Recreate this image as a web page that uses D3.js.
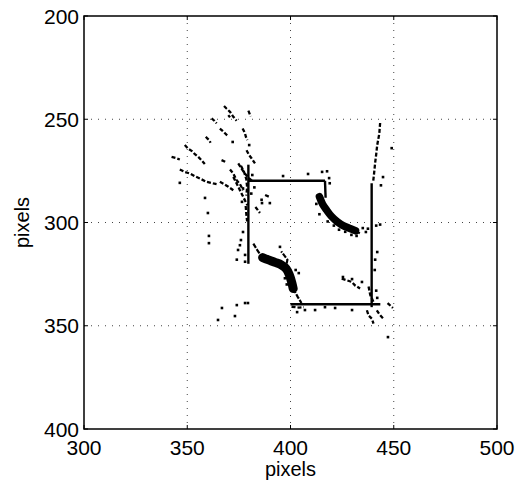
<!DOCTYPE html>
<html>
<head>
<meta charset="utf-8">
<script src="https://cdn.jsdelivr.net/npm/d3@7"></script>
<style>
  body { margin: 0; background: #fff; }
  svg { display: block; }
  text { font-family: "Liberation Sans", Arial, sans-serif; }
</style>
</head>
<body>
<div id="chart"></div>
<script>
// axis ticks
const xTicks = [300, 350, 400, 450, 500];
const yTicks = [200, 250, 300, 350, 400];

// square outline found by the tracker
const edges = [
  [[379.6, 272], [379.6, 320]],
  [[379.6, 279.8], [416.7, 279.8]],
  [[416.7, 279.8], [417, 288]],
  [[439.3, 281], [439.3, 341]],
  [[400, 339.6], [443.5, 339.6]]
];

// dense curved corner clusters
const blobs = [
  [[414, 287.5], [415.5, 291], [417.5, 294], [419.8, 297], [422.5, 299.5], [425.5, 301.5], [428.5, 302.8], [431.5, 304]],
  [[386.5, 317], [389, 318], [392.5, 319.3], [395.5, 320.5], [398, 322.5], [399.5, 325.5], [400.6, 329], [401.3, 332]]
];
const thinTracks = [
  [[382, 310.2], [384, 313.5], [386, 316.5]],
  [[401.3, 332], [403.5, 336], [405.3, 339]],
  [[397.5, 323], [398.5, 318], [395.5, 314]],
  [[431.5, 304], [434, 305.5]]
];

// dotted feature tracks
const tracks = [
  [[367.8, 243.6], [369.0, 244.8], [370.7, 246.4], [372.3, 248.8], [373.9, 250.7]],
  [[361.8, 249.6], [363.1, 250.7], [364.2, 252.0]],
  [[369.9, 248.0], [370.7, 249.1]],
  [[365.8, 254.5], [367.1, 255.6], [368.4, 256.9], [370.0, 258.5]],
  [[359.0, 258.5], [359.7, 259.3], [360.6, 260.1], [361.3, 261.4]],
  [[379.6, 245.8], [380.7, 248.6]],
  [[376.8, 254.5], [377.9, 256.6], [378.4, 258.5], [379.1, 260.1]],
  [[348.8, 262.5], [350.4, 264.2], [352.1, 265.3], [353.7, 266.9], [355.3, 268.2], [356.9, 269.8], [358.5, 271.7]],
  [[342.4, 268.2], [344.5, 268.8], [346.4, 269.5]],
  [[346.4, 274.3], [348.8, 275.5], [351.3, 276.3], [353.7, 277.6], [356.1, 278.7], [359.3, 280.3], [362.6, 281.1], [364.2, 281.4]],
  [[366.6, 269.8], [368.4, 270.6]],
  [[378.7, 265.0], [380.0, 267.4], [381.2, 269.0], [382.8, 271.4]],
  [[374.7, 271.4], [376.3, 273.9], [377.9, 276.3], [380.0, 278.7], [382.0, 280.3]],
  [[370.7, 274.3], [372.3, 276.3], [373.9, 279.5], [375.5, 281.4], [377.1, 284.4]],
  [[372.3, 277.9], [373.9, 281.1], [375.5, 284.4], [377.1, 287.6], [379.1, 291.6]],
  [[365.8, 280.3], [367.8, 281.4], [369.9, 282.7], [372.3, 284.4]],
  [[376.0, 272.5], [377.5, 275.5], [378.6, 279.0], [379.0, 283.0], [378.6, 287.0]],
  [[378.3, 292.0], [378.6, 296.0], [379.0, 299.5]],
  [[443.4, 251.8], [443.0, 257.0], [442.0, 262.5], [441.5, 267.0], [441.0, 271.0], [440.5, 276.0], [440.0, 280.4]],
  [[424.8, 327.2], [427.3, 328.0], [429.7, 328.8], [431.3, 330.5], [433.7, 332.0]],
  [[437.8, 331.0], [438.6, 335.0], [440.2, 338.5]],
  [[437.0, 342.5], [437.8, 345.0], [439.4, 346.6], [440.2, 349.0]],
  [[441.8, 342.5], [443.1, 344.5], [445.0, 346.6]],
  [[447.0, 339.0], [448.3, 340.2], [449.6, 341.4]],
  [[383.0, 292.5], [384.2, 294.0], [385.2, 295.4]],
  [[387.7, 286.7], [390.0, 287.7]],
  [[400.5, 340.8], [404.0, 341.2], [406.5, 341.0]]
];

// isolated detections
const dots = [
  [346.4, 280.8], [358.6, 288.1], [360.0, 295.4], [360.5, 306.5], [360.5, 310.0],
  [364.9, 347.2], [366.8, 341.4], [373.1, 345.3], [374.0, 340.0], [378.0, 339.0], [379.4, 339.0],
  [374.6, 313.3], [374.0, 318.0], [375.5, 311.0], [378.0, 315.7], [378.0, 319.0], [376.0, 308.5], [377.0, 304.6],
  [386.0, 289.0], [386.2, 290.6], [390.0, 290.6], [372.0, 261.0], [380.0, 262.5],
  [396.4, 277.5], [408.5, 276.5], [415.3, 275.5], [417.7, 275.2], [418.7, 278.5], [419.0, 281.0],
  [449.0, 264.0], [444.8, 278.0], [443.8, 282.0], [443.4, 301.0], [442.0, 314.3], [441.5, 301.5],
  [435.0, 302.7], [436.5, 304.6], [437.5, 303.0], [432.0, 306.5], [429.5, 306.0],
  [403.2, 343.4], [407.0, 342.4], [411.9, 342.4], [416.7, 341.0], [421.6, 341.4], [429.8, 342.4],
  [447.2, 355.5], [425.4, 326.4], [429.8, 327.4], [434.6, 328.8],
  [394.9, 311.8], [402.5, 323.0], [404.0, 324.5], [398.2, 330.0], [397.3, 327.0],
  [412.5, 291.0], [414.0, 296.0], [418.0, 299.5], [421.0, 301.5], [426.5, 304.5], [423.5, 303.5],
  [440.8, 323.0], [441.0, 318.0], [441.5, 333.0], [442.0, 336.5],
  [381.5, 277.0], [382.5, 283.0], [377.0, 283.5], [381.0, 286.0], [376.5, 290.0]
];

const width = 515, height = 482;
const margin = { left: 84, top: 16, right: 18, bottom: 53 };

const svg = d3.select("#chart").append("svg")
  .attr("width", width)
  .attr("height", height);

const x = d3.scaleLinear().domain([300, 500]).range([margin.left, width - margin.right]);
const y = d3.scaleLinear().domain([200, 400]).range([margin.top, height - margin.bottom]);

// grid
svg.append("g").selectAll("line").data(xTicks.slice(1, -1)).join("line")
  .attr("x1", d => x(d)).attr("x2", d => x(d))
  .attr("y1", y(200)).attr("y2", y(400))
  .attr("stroke", "#444").attr("stroke-width", 1).attr("stroke-dasharray", "1 6");
svg.append("g").selectAll("line").data(yTicks.slice(1, -1)).join("line")
  .attr("y1", d => y(d)).attr("y2", d => y(d))
  .attr("x1", x(300)).attr("x2", x(500))
  .attr("stroke", "#444").attr("stroke-width", 1).attr("stroke-dasharray", "1 6");

const line = d3.line().x(d => x(d[0])).y(d => y(d[1]));
const smooth = d3.line().x(d => x(d[0])).y(d => y(d[1])).curve(d3.curveCatmullRom);

// outline
svg.append("g").selectAll("path").data(edges).join("path")
  .attr("d", line).attr("fill", "none")
  .attr("stroke", "#000").attr("stroke-width", 2.4);

// clusters
svg.append("g").selectAll("path").data(blobs).join("path")
  .attr("d", smooth).attr("fill", "none")
  .attr("stroke", "#000").attr("stroke-width", (d, i) => i ? 9 : 7.5).attr("stroke-linecap", "round");
svg.append("g").selectAll("path").data(thinTracks).join("path")
  .attr("d", line).attr("fill", "none")
  .attr("stroke", "#000").attr("stroke-width", 2.2).attr("stroke-dasharray", "5 1.5");

// tracks
svg.append("g").selectAll("path").data(tracks).join("path")
  .attr("d", line).attr("fill", "none")
  .attr("stroke", "#000").attr("stroke-width", 2.3).attr("stroke-dasharray", "4 2");

// dots
svg.append("g").selectAll("rect").data(dots).join("rect")
  .attr("x", d => x(d[0]) - 1.3).attr("y", d => y(d[1]) - 1.3)
  .attr("width", 2.6).attr("height", 2.6).attr("fill", "#000");

// frame
svg.append("rect")
  .attr("x", x(300)).attr("y", y(200))
  .attr("width", x(500) - x(300)).attr("height", y(400) - y(200))
  .attr("fill", "none").attr("stroke", "#000").attr("stroke-width", 1.5);

// inward ticks
const tk = 4;
const ticks = svg.append("g").attr("stroke", "#000").attr("stroke-width", 1);
xTicks.forEach(v => {
  ticks.append("line").attr("x1", x(v)).attr("x2", x(v)).attr("y1", y(400)).attr("y2", y(400) - tk);
  ticks.append("line").attr("x1", x(v)).attr("x2", x(v)).attr("y1", y(200)).attr("y2", y(200) + tk);
});
yTicks.forEach(v => {
  ticks.append("line").attr("y1", y(v)).attr("y2", y(v)).attr("x1", x(300)).attr("x2", x(300) + tk);
  ticks.append("line").attr("y1", y(v)).attr("y2", y(v)).attr("x1", x(500)).attr("x2", x(500) - tk);
});

// tick labels
svg.append("g").selectAll("text").data(xTicks).join("text")
  .attr("x", d => x(d)).attr("y", y(400) + 26)
  .attr("text-anchor", "middle").attr("font-size", 21).text(d => d);
svg.append("g").selectAll("text").data(yTicks).join("text")
  .attr("x", x(300) - 5).attr("y", d => y(d) + 7.5)
  .attr("text-anchor", "end").attr("font-size", 21).text(d => d);

// axis labels
svg.append("text")
  .attr("x", (x(300) + x(500)) / 2).attr("y", 476)
  .attr("text-anchor", "middle").attr("font-size", 20).text("pixels");
svg.append("text")
  .attr("transform", `translate(29,${y(300)}) rotate(-90)`)
  .attr("text-anchor", "middle").attr("font-size", 20).text("pixels");
</script>
</body>
</html>
